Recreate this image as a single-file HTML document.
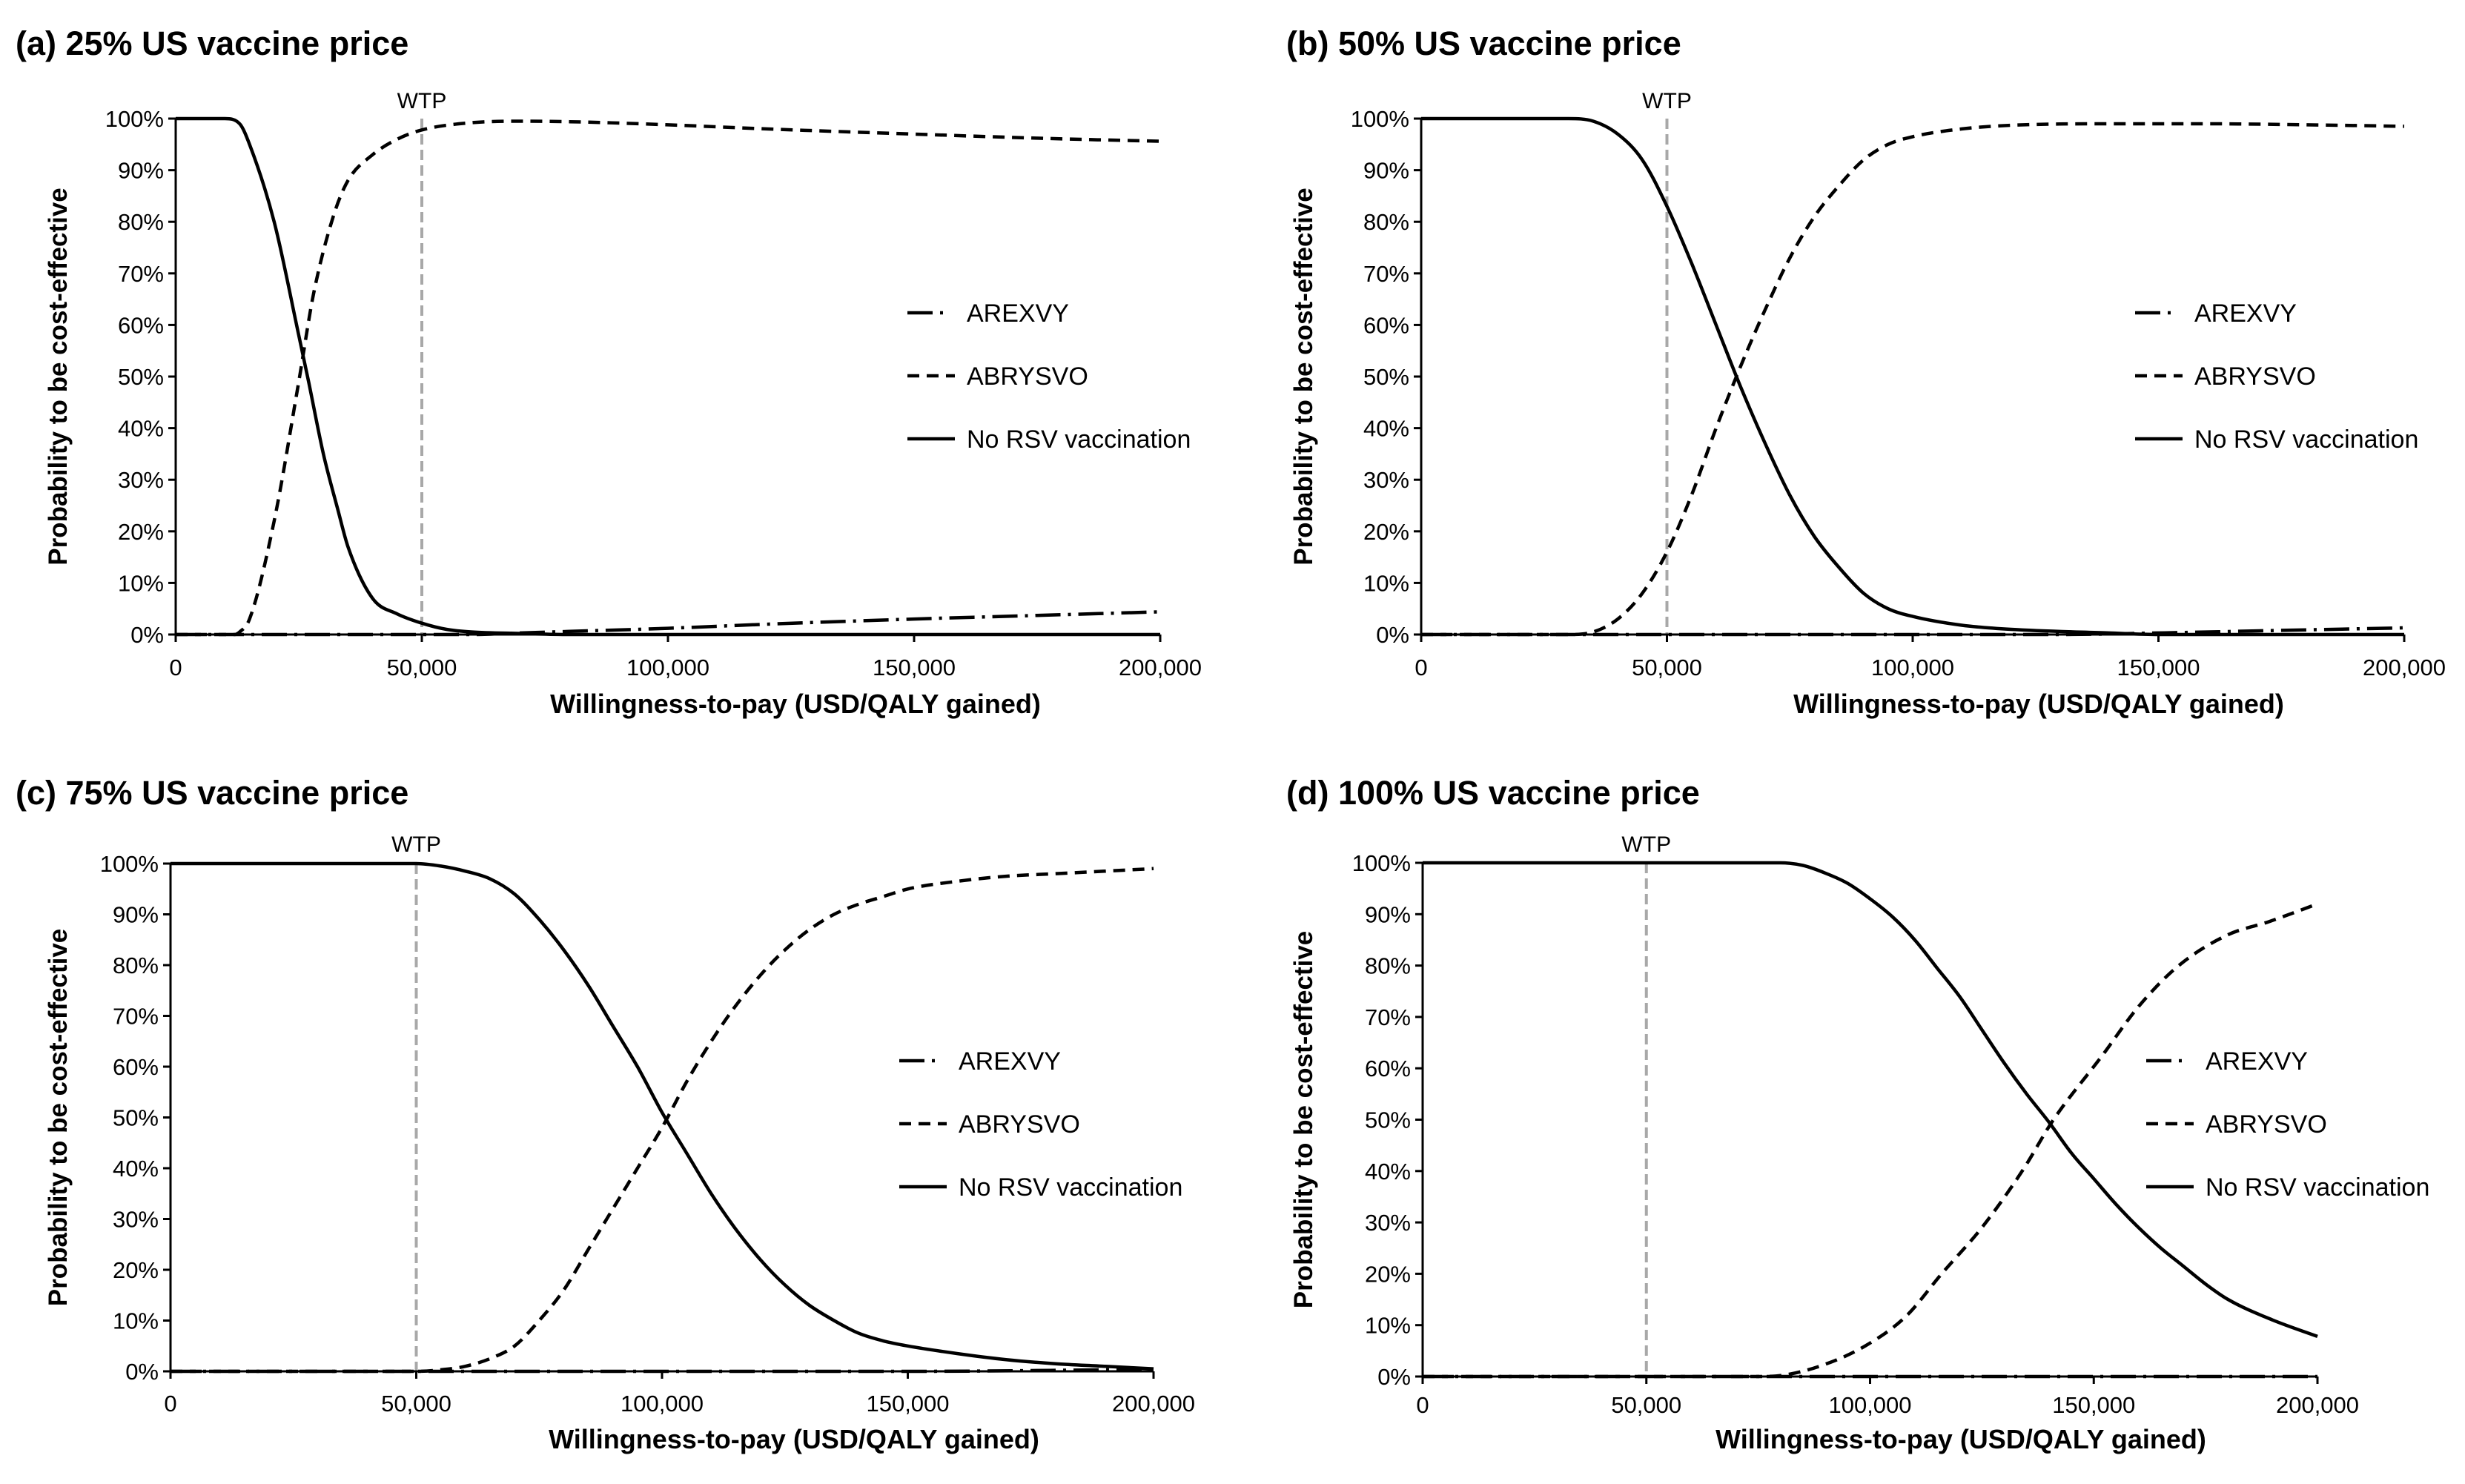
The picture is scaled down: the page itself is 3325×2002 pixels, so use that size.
<!DOCTYPE html>
<html><head><meta charset="utf-8"><style>
html,body{margin:0;padding:0;background:#fff;}
svg{display:block;font-family:"Liberation Sans",Arial,sans-serif;}
</style></head><body>
<svg id="fig" width="3325" height="2002" viewBox="0 0 3325 2002" xmlns="http://www.w3.org/2000/svg"></svg>
<script>
const yTicks=[0,10,20,30,40,50,60,70,80,90,100];
const xTicks=[0,50000,100000,150000,200000];
const xTickLabels=["0","50,000","100,000","150,000","200,000"];
const wtp=50000;
const panelTitles=["(a) 25% US vaccine price","(b) 50% US vaccine price","(c) 75% US vaccine price","(d) 100% US vaccine price"];
const legendLabels=["AREXVY","ABRYSVO","No RSV vaccination"];
// panel a (x in thousands USD, y in %)
const aNoX=[0,10,13,15,20,25,27,30,33,35,40,45,50,55,60,70,80,200];
const aNoY=[100,100,99,95,80,58,49,35,24,17,7,4,2.2,1,0.5,0.2,0,0];
const aAbX=[0,12,13,15,20,25,28,32,35,40,45,50,60,70,80,100,120,150,175,200];
const aAbY=[0,0,0.5,3,22,49,66,81,88,93,96,97.8,99.2,99.5,99.4,98.8,98,97,96.2,95.6];
const aArX=[0,60,70,80,100,120,150,175,200];
const aArY=[0,0,0.3,0.6,1.2,2,3,3.7,4.4];
// panel b
const bNoX=[0,30,35,40,45,50,55,60,65,70,75,80,85,90,95,100,110,120,140,150,200];
const bNoY=[100,100,99.5,97,92,83,72,60,48,37,27,19,13,8,5,3.5,1.8,1,0.3,0,0];
const bAbX=[0,30,35,40,45,50,55,60,65,70,75,80,85,90,95,100,110,120,140,160,180,200];
const bAbY=[0,0,0.5,3,8,16,27,40,52,63,73,81,87,92,95,96.5,98,98.7,99,99,98.8,98.5];
const bArX=[0,130,150,175,200];
const bArY=[0,0,0.3,0.8,1.3];
// panel c
const cNoX=[0,50,55,60,65,70,75,80,85,90,95,100,105,110,115,120,125,130,135,140,145,150,160,170,180,190,200];
const cNoY=[100,100,99.5,98.5,97,94,89,83,76,68,60,51,43,35,28,22,17,13,10,7.5,6,5,3.5,2.3,1.5,1,0.5];
const cAbX=[0,50,55,60,65,70,75,80,85,90,95,100,105,110,115,120,125,130,135,140,145,150,160,170,180,190,200];
const cAbY=[0,0,0.3,1,2.5,5,10,16,24,32,40,48,57,65,72,78,83,87,90,92,93.5,95,96.5,97.5,98,98.5,99];
const cArX=[0,150,200];
const cArY=[0,0,0.4];
// panel d
const dNoX=[0,80,85,90,95,100,105,110,115,120,125,130,135,140,145,150,155,160,165,170,175,180,190,200];
const dNoY=[100,100,99.5,98,96,93,89.5,85,79.5,74,67.5,61,55,49.5,43.5,38.5,33.5,29,25,21.5,18,15,11,7.8];
const dAbX=[0,75,81,90,99,108,116,125,134,141,152,160,169,180,189,200];
const dAbY=[0,0,0.3,2.4,6,11.7,20,29,40,50,62.6,72,80,86,88.5,92];
const dArX=[0,200];
const dArY=[0,0];

const panels=[
 {x0:237,x1:1565,y0:856,y1:160,title:[21,72],ytx:78,xtitle:[1073,962],xtl:911,wtpY:146,leg:[1224,422],
  no:[aNoX,aNoY],ab:[aAbX,aAbY],ar:[aArX,aArY]},
 {x0:1917,x1:3243,y0:856,y1:160,title:[1735,72],ytx:1758,xtitle:[2750,962],xtl:911,wtpY:146,leg:[2880,422],
  no:[bNoX,bNoY],ab:[bAbX,bAbY],ar:[bArX,bArY]},
 {x0:230,x1:1556,y0:1850,y1:1165,title:[21,1083],ytx:78,xtitle:[1071,1954],xtl:1904,wtpY:1149,leg:[1213,1431],
  no:[cNoX,cNoY],ab:[cAbX,cAbY],ar:[cArX,cArY]},
 {x0:1919,x1:3126,y0:1857,y1:1164,title:[1735,1083],ytx:1758,xtitle:[2645,1954],xtl:1906,wtpY:1149,leg:[2895,1431],
  no:[dNoX,dNoY],ab:[dAbX,dAbY],ar:[dArX,dArY]}
];
const NS="http://www.w3.org/2000/svg";
const svg=document.getElementById('fig');
function mk(tag,attrs,parent){const e=document.createElementNS(NS,tag);for(const k in attrs)e.setAttribute(k,attrs[k]);(parent||svg).appendChild(e);return e;}
function txt(s,attrs,parent){const e=mk('text',attrs,parent);e.textContent=s;return e;}
// monotone cubic path through points
function smoothPath(P){
 const n=P.length;if(n<2)return '';
 const d=[],m=new Array(n);
 for(let k=0;k<n-1;k++)d.push((P[k+1][1]-P[k][1])/(P[k+1][0]-P[k][0]));
 m[0]=d[0];m[n-1]=d[n-2];
 for(let k=1;k<n-1;k++){m[k]=(d[k-1]*d[k]<=0)?0:(d[k-1]+d[k])/2;}
 for(let k=0;k<n-1;k++){
  if(d[k]===0){m[k]=0;m[k+1]=0;continue;}
  const a=m[k]/d[k],b=m[k+1]/d[k],s=a*a+b*b;
  if(s>9){const t=3/Math.sqrt(s);m[k]=t*a*d[k];m[k+1]=t*b*d[k];}
 }
 let s='M'+P[0][0].toFixed(1)+','+P[0][1].toFixed(1);
 for(let k=0;k<n-1;k++){
  const h=(P[k+1][0]-P[k][0])/3;
  s+='C'+(P[k][0]+h).toFixed(1)+','+(P[k][1]+m[k]*h).toFixed(1)+' '+(P[k+1][0]-h).toFixed(1)+','+(P[k+1][1]-m[k+1]*h).toFixed(1)+' '+P[k+1][0].toFixed(1)+','+P[k+1][1].toFixed(1);
 }
 return s;
}

panels.forEach((p,i)=>{
 const g=mk('g',{});
 
 
 const sx=v=>p.x0+(v/200000)*(p.x1-p.x0);
 const sy=v=>p.y0+(v/100)*(p.y1-p.y0);
 const t=txt(panelTitles[i],{x:p.title[0],y:p.title[1]+2,'font-size':45,'font-weight':'bold',fill:'#000'},g);
 
 
 yTicks.forEach(v=>{
  const l=mk('line',{x1:p.x0-10,x2:p.x0,y1:sy(v),y2:sy(v),stroke:'#000','stroke-width':3},g);
  
  
  const tl=txt(v+'%',{x:p.x0-16,y:sy(v)+11,'font-size':31,'text-anchor':'end',fill:'#000'},g);
  
  
 });
 xTicks.forEach((v,j)=>{
  const l=mk('line',{x1:sx(v),x2:sx(v),y1:p.y0,y2:p.y0+10,stroke:'#000','stroke-width':3},g);
  
  
  const tl=txt(xTickLabels[j],{x:sx(v),y:p.xtl,'font-size':31,'text-anchor':'middle',fill:'#000'},g);
  
  
 });
 const yt=txt('Probability to be cost-effective',{x:0,y:0,'font-size':35,'font-weight':'bold','text-anchor':'middle',transform:`translate(${p.ytx+12},${(p.y0+p.y1)/2}) rotate(-90)`},g);
 
 
 const xt=txt('Willingness-to-pay (USD/QALY gained)',{x:p.xtitle[0],y:p.xtitle[1],'font-size':36,'font-weight':'bold','text-anchor':'middle'},g);
 
 
 const w=mk('line',{x1:sx(wtp),x2:sx(wtp),y1:p.y1,y2:p.y0,stroke:'#a8a8a8','stroke-width':4,'stroke-dasharray':'14 7'},g);
 
 
 const wl=txt('WTP',{x:sx(wtp),y:p.wtpY,'font-size':30,'text-anchor':'middle'},g);
 
 
 const path=(xs,ys)=>smoothPath(xs.map((x,k)=>[sx(x*1000),sy(ys[k])]));
 const ar=mk('path',{d:path(p.ar[0],p.ar[1]),fill:'none',stroke:'#000','stroke-width':4.5,'stroke-dasharray':'34 10 4 10'},g);
 
 
 const ab=mk('path',{d:path(p.ab[0],p.ab[1]),fill:'none',stroke:'#000','stroke-width':4.5,'stroke-dasharray':'16 10','stroke-linejoin':'round'},g);
 
 
 const no=mk('path',{d:path(p.no[0],p.no[1]),fill:'none',stroke:'#000','stroke-width':4.5,'stroke-linejoin':'round'},g);
 
 
 const ax=mk('line',{x1:p.x0,x2:p.x1,y1:p.y0,y2:p.y0,stroke:'#000','stroke-width':3},g);
 
 
 const ay=mk('line',{x1:p.x0,x2:p.x0,y1:p.y1,y2:p.y0,stroke:'#000','stroke-width':3},g);
 
 
 const dashes=['34 10 4 100','16 10','100'];
 legendLabels.forEach((lab,k)=>{
  const ly=p.leg[1]+k*85;
  const lg=mk('g',{},g);
  
  
  mk('line',{x1:p.leg[0],x2:p.leg[0]+64,y1:ly,y2:ly,stroke:'#000','stroke-width':4.5,'stroke-dasharray':dashes[k]},lg);
  txt(lab,{x:p.leg[0]+80,y:ly+12,'font-size':34},lg);
 });
});
</script>
</body></html>
